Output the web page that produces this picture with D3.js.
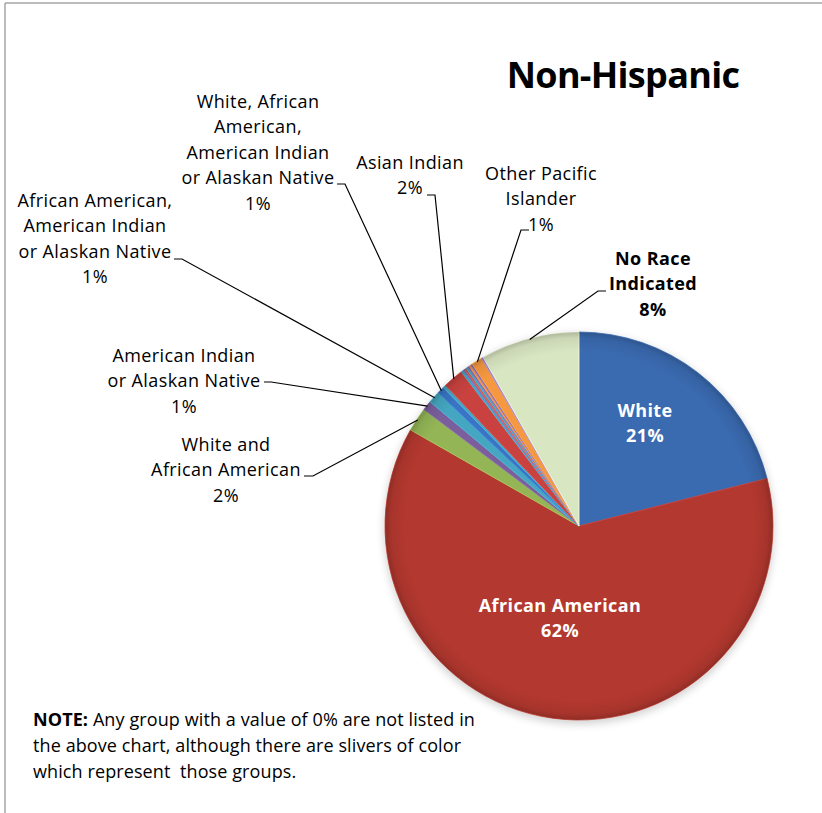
<!DOCTYPE html>
<html><head><meta charset="utf-8">
<script src="https://cdn.jsdelivr.net/npm/d3@7"></script>
<style>body{margin:0;background:#fff} svg{display:block}</style>
</head><body>
<svg id="c" width="822" height="813"></svg>
<script>
// ---- data (clockwise from 12 o'clock) ----
const categories = [
  "White", "African American", "White and African American",
  "American Indian or Alaskan Native",
  "African American, American Indian or Alaskan Native",
  "White, African American, American Indian or Alaskan Native",
  "White and American Indian or Alaskan Native",
  "Asian Indian", "Chinese", "Filipino", "Japanese", "Korean",
  "Vietnamese", "Other Asian", "Native Hawaiian",
  "Other Pacific Islander", "Guamanian or Chamorro", "No Race Indicated"
];
const values = [21.0, 62.0, 2.0, 0.8, 1.0, 0.6, 0.25, 1.7, 0.2, 0.15, 0.15, 0.15,
                0.15, 0.15, 0.15, 0.9, 0.15, 8.2];
const colors = ["#3a6ab0", "#b3382f", "#93b556", "#7a5f9c", "#44a6c0", "#3a74c4",
                "#44a6c0", "#c9423f", "#3fa5c4", "#8468a8", "#cc5a45", "#3fa5c4",
                "#8468a8", "#f3923f", "#8a6aac", "#f5983f", "#9a82be", "#d9e6c2"];

// label layout (text lines, positions) for the labelled slices
const labelLines = {
  0: ["White", "21%"],
  1: ["African American", "62%"],
  2: ["White and", "African American", "2%"],
  3: ["American Indian", "or Alaskan Native", "1%"],
  4: ["African American,", "American Indian", "or Alaskan Native", "1%"],
  5: ["White, African", "American,", "American Indian", "or Alaskan Native", "1%"],
  7: ["Asian Indian", "2%"],
  15: ["Other Pacific", "Islander", "1%"],
  17: ["No Race", "Indicated", "8%"]
};
const labelLayout = [
  {i: 0, x: 645, y: 410, inside: true},
  {i: 1, x: 560, y: 605, inside: true},
  {i: 2, x: 226, y: 444, lx: 304, ly: 476, elbow: 313},
  {i: 3, x: 184, y: 355, lx: 264, ly: 382, elbow: 271},
  {i: 4, x: 95, y: 200, lx: 174, ly: 259, elbow: 182},
  {i: 5, x: 258, y: 101, lx: 337, ly: 184, elbow: 345},
  {i: 7, x: 410, y: 162, lx: 427, ly: 195, elbow: 435},
  {i: 15, x: 541, y: 173, lx: 529, ly: 230, elbow: 521},
  {i: 17, x: 653, y: 258, lx: 606, ly: 291, elbow: 598, bold: true}
];

const W = 822, H = 813;
const cx = 579, cy = 526, R = 194;
const svg = d3.select("#c");
const FONT = "'Open Sans', 'Noto Sans', sans-serif";

// frame
svg.append("line").attr("x1", 5).attr("y1", 3).attr("x2", W).attr("y2", 3)
  .attr("stroke", "#a6a6a6").attr("stroke-width", 1.5);
svg.append("line").attr("x1", 5).attr("y1", 3).attr("x2", 5).attr("y2", H)
  .attr("stroke", "#a6a6a6").attr("stroke-width", 1.5);

const defs = svg.append("defs");
const f = defs.append("filter").attr("id", "blur").attr("x", "-20%").attr("y", "-20%")
  .attr("width", "140%").attr("height", "140%");
f.append("feGaussianBlur").attr("stdDeviation", 4);
const g1 = defs.append("radialGradient").attr("id", "shade")
  .attr("gradientUnits", "userSpaceOnUse").attr("cx", 0).attr("cy", 0).attr("r", R);
g1.append("stop").attr("offset", 0).attr("stop-color", "#000").attr("stop-opacity", 0);
g1.append("stop").attr("offset", 0.9).attr("stop-color", "#000").attr("stop-opacity", 0);
g1.append("stop").attr("offset", 0.97).attr("stop-color", "#000").attr("stop-opacity", 0.07);
g1.append("stop").attr("offset", 1).attr("stop-color", "#000").attr("stop-opacity", 0.2);

const pie = d3.pie().sort(null).value(d => d)(values);
const arc = d3.arc().innerRadius(0).outerRadius(R);
const g = svg.append("g").attr("transform", `translate(${cx},${cy})`);
// soft shadow
g.append("circle").attr("cy", 3).attr("r", R + 1).attr("fill", "#000")
  .attr("opacity", 0.18).attr("filter", "url(#blur)");
g.selectAll("path.s").data(pie).join("path").attr("class", "s")
  .attr("d", arc).attr("fill", (d, i) => colors[i])
  .attr("stroke", (d, i) => d3.color(colors[i]).brighter(0.4))
  .attr("stroke-width", 0.8);
g.append("circle").attr("r", R).attr("fill", "url(#shade)").attr("pointer-events", "none");

// title
svg.append("text").attr("x", 623).attr("y", 88).attr("text-anchor", "middle")
  .attr("font-family", FONT).attr("font-weight", "bold").attr("font-size", 36)
  .attr("letter-spacing", -0.7).text("Non-Hispanic");

// labels
const pct = v => Math.round(v) + "%";
const lh = 25.5;
labelLayout.forEach(L => {
  const lines = labelLines[L.i].slice();
  const t = svg.append("text").attr("text-anchor", "middle")
    .attr("font-family", FONT).attr("font-size", 18).attr("letter-spacing", 0.4)
    .attr("font-weight", (L.inside || L.bold) ? "bold" : "normal")
    .attr("fill", L.inside ? "#fff" : "#000");
  lines[lines.length - 1] = pct(values[L.i]);
  lines.forEach((s, k) => t.append("tspan").attr("x", L.x).attr("y", L.y + k * lh + 6.5).text(s));
  if (!L.inside) {
    const d = pie[L.i];
    const a = (d.startAngle + d.endAngle) / 2;
    const ex = cx + Math.sin(a) * (R - 1), ey = cy - Math.cos(a) * (R - 1);
    svg.append("path").attr("d", `M${L.lx},${L.ly}L${L.elbow},${L.ly}L${ex},${ey}`)
      .attr("fill", "none").attr("stroke", "#000").attr("stroke-width", 1.2);
  }
});

// note
const note = svg.append("text").attr("font-family", FONT).attr("font-size", 18)
  .attr("letter-spacing", 0.1);
const noteLines = ["Any group with a value of 0% are not listed in",
  "the above chart, although there are slivers of color",
  "which represent  those groups."];
const n0 = note.append("tspan").attr("x", 33).attr("y", 726);
n0.append("tspan").attr("font-weight", "bold").text("NOTE:");
n0.append("tspan").text(" " + noteLines[0]);
note.append("tspan").attr("x", 33).attr("y", 752).text(noteLines[1]);
note.append("tspan").attr("x", 33).attr("y", 778).attr("xml:space", "preserve").text(noteLines[2]);
</script>
</body></html>
